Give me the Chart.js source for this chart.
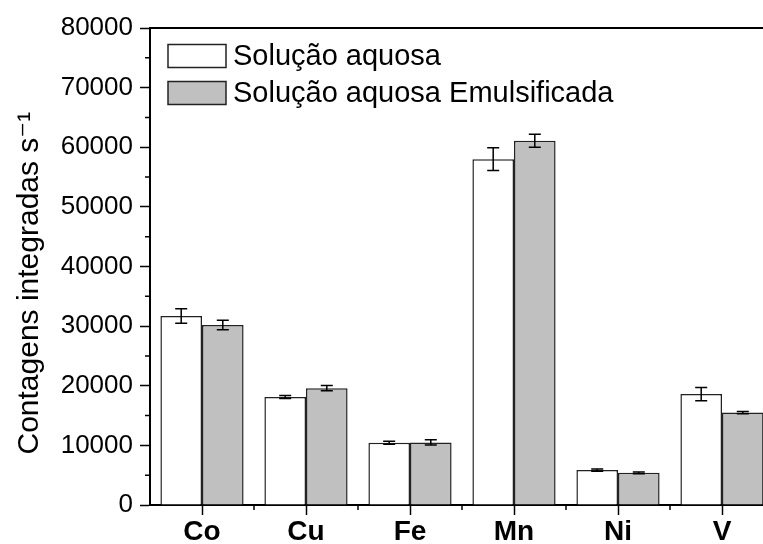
<!DOCTYPE html>
<html>
<head>
<meta charset="utf-8">
<script src="https://cdn.jsdelivr.net/npm/chart.js@4/dist/chart.umd.min.js"></script>
<style>
  html, body { margin: 0; padding: 0; overflow: hidden; background: #fff; }
</style>
</head>
<body>
<canvas id="myChart" width="776" height="544"></canvas>
<script>
// data
var elements = ['Co', 'Cu', 'Fe', 'Mn', 'Ni', 'V'];
var aquosa = [31700, 18100, 10450, 58000, 5850, 18600];
var aquosaErr = [1200, 250, 250, 1900, 200, 1100];
var emulsificada = [30200, 19600, 10500, 61100, 5400, 15500];
var emulsificadaErr = [800, 450, 450, 1100, 150, 200];
var yTicks = [0, 10000, 20000, 30000, 40000, 50000, 60000, 70000, 80000];

var FONT = "'Liberation Sans', Arial, 'DejaVu Sans', sans-serif";

// error bars, minor ticks, top frame line and the legend box
var extras = {
  id: 'extras',
  afterDatasetsDraw: function (chart) {
    var ctx = chart.ctx;
    var y = chart.scales.y;
    var x = chart.scales.x;
    var area = chart.chartArea;
    ctx.save();
    ctx.strokeStyle = '#000';
    ctx.lineWidth = 1.5;
    chart.data.datasets.forEach(function (ds, di) {
      var meta = chart.getDatasetMeta(di);
      meta.data.forEach(function (bar, i) {
        var v = ds.data[i], e = ds.errors[i];
        var top = y.getPixelForValue(v + e);
        var bot = y.getPixelForValue(v - e);
        ctx.beginPath();
        ctx.moveTo(bar.x, top); ctx.lineTo(bar.x, bot);
        ctx.moveTo(bar.x - 6, top); ctx.lineTo(bar.x + 6, top);
        ctx.moveTo(bar.x - 6, bot); ctx.lineTo(bar.x + 6, bot);
        ctx.stroke();
      });
    });
    // minor ticks
    ctx.beginPath();
    for (var k = 0; k < yTicks.length - 1; k++) {
      var py = y.getPixelForValue((yTicks[k] + yTicks[k + 1]) / 2);
      ctx.moveTo(area.left - 5, py); ctx.lineTo(area.left, py);
    }
    for (var j = 0; j < elements.length - 1; j++) {
      var px = (x.getPixelForValue(j) + x.getPixelForValue(j + 1)) / 2;
      ctx.moveTo(px, area.bottom); ctx.lineTo(px, area.bottom + 5);
    }
    ctx.stroke();
    // top frame
    ctx.lineWidth = 2;
    ctx.beginPath();
    ctx.moveTo(area.left - 1, area.top); ctx.lineTo(area.right, area.top);
    ctx.stroke();

    // legend
    ctx.font = '29px ' + FONT;
    ctx.textBaseline = 'middle';
    chart.data.datasets.forEach(function (ds, di) {
      var cy = 56 + di * 37;
      ctx.fillStyle = ds.backgroundColor;
      ctx.fillRect(168, cy - 11.5, 58, 23);
      ctx.lineWidth = 1.5;
      ctx.strokeStyle = '#222';
      ctx.strokeRect(168, cy - 11.5, 58, 23);
      ctx.fillStyle = '#000';
      ctx.fillText(ds.label, 233, cy + 1);
    });
    ctx.restore();
  }
};

var ctx = document.getElementById('myChart').getContext('2d');
var myChart = new Chart(ctx, {
  type: 'bar',
  data: {
    labels: elements,
    datasets: [
      {
        label: 'Solução aquosa',
        data: aquosa,
        errors: aquosaErr,
        backgroundColor: '#ffffff',
        borderColor: '#222',
        borderWidth: 1.5,
        borderSkipped: 'bottom',
        categoryPercentage: 0.8,
        barPercentage: 1.0
      },
      {
        label: 'Solução aquosa Emulsificada',
        data: emulsificada,
        errors: emulsificadaErr,
        backgroundColor: '#c0c0c0',
        borderColor: '#222',
        borderWidth: 1.5,
        borderSkipped: 'bottom',
        categoryPercentage: 0.8,
        barPercentage: 1.0
      }
    ]
  },
  options: {
    responsive: false,
    animation: false,
    layout: { padding: { top: 28, right: 2, left: 0, bottom: 0 } },
    plugins: {
      legend: { display: false },
      tooltip: { enabled: false }
    },
    scales: {
      x: {
        offset: true,
        grid: { offset: false, drawOnChartArea: false, tickLength: 10, tickColor: '#000', tickWidth: 1.5 },
        border: { color: '#000', width: 2 },
        ticks: { color: '#000', font: { family: FONT, size: 28, weight: 'bold' }, padding: 0 },
        afterFit: function (s) { s.height = 39; }
      },
      y: {
        min: 0,
        max: 80000,
        afterBuildTicks: function (s) { s.ticks = yTicks.map(function (v) { return { value: v }; }); },
        grid: { drawOnChartArea: false, tickLength: 10, tickColor: '#000', tickWidth: 1.5 },
        border: { color: '#000', width: 2 },
        ticks: {
          color: '#000',
          font: { family: FONT, size: 26 },
          padding: 7,
          callback: function (v) { return String(v); }
        },
        title: {
          display: true,
          text: 'Contagens integradas s⁻¹    ',
          color: '#000',
          font: { family: FONT, size: 30 },
          padding: { top: 12, bottom: 0 }
        },
        afterFit: function (s) { s.width = 150; }
      }
    }
  },
  plugins: [extras]
});
</script>
</body>
</html>
